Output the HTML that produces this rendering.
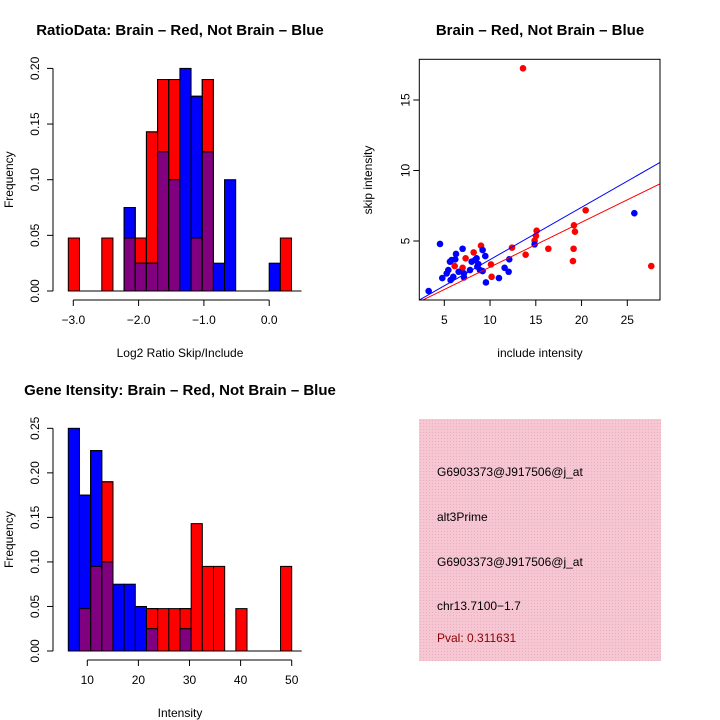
<!DOCTYPE html>
<html><head><meta charset="utf-8"><style>
body{margin:0;background:#fff}
svg{display:block;font-family:"Liberation Sans",sans-serif}
</style></head><body>
<svg id="c" width="720" height="720" viewBox="0 0 720 720">
<rect width="720" height="720" fill="#fff"/>
<defs><pattern id="hatch" width="3" height="3" patternUnits="userSpaceOnUse"><rect width="3" height="3" fill="#f6c6d2"/><rect width="1" height="1" fill="#eab0c0"/></pattern></defs>
<g id="h1"></g>
<g id="sc"></g>
<g id="h2"></g>
<g>
<rect x="419" y="419" width="242" height="242" fill="url(#hatch)"/>
<g font-size="12">
<text x="437" y="476">G6903373@J917506@j_at</text>
<text x="437" y="521">alt3Prime</text>
<text x="437" y="566">G6903373@J917506@j_at</text>
<text x="437" y="610">chr13.7100−1.7</text>
<text x="437" y="642" fill="#8b0000">Pval: 0.311631</text>
</g></g>
</svg>
<script>
// ---- histogram 1 data ----
const h1Start=-3.0765, h1Width=0.1709;
const h1Red=[0.0476,0,0,0.0476,0,0.0476,0.0476,0.143,0.19,0.19,0,0.0476,0.19,0,0,0,0,0,0,0.0476];
const h1Blue=[0,0,0,0,0,0.075,0.025,0.025,0.125,0.1,0.2,0.175,0.125,0.025,0.1,0,0,0,0.025,0];
const h1XTicks=[-3.0,-2.0,-1.0,0.0];
const h1XTickLabels=["\u22123.0","\u22122.0","\u22121.0","0.0"];
const h1YTicks=[0,0.05,0.1,0.15,0.2];
const h1YTickLabels=["0.00","0.05","0.10","0.15","0.20"];
// ---- histogram 2 data ----
const h2Start=6.28, h2Width=2.186;
const h2Red=[0,0.0476,0.095,0.19,0,0,0,0.0476,0.0476,0.0476,0.0476,0.143,0.095,0.095,0,0.0476,0,0,0,0.095];
const h2Blue=[0.25,0.175,0.225,0.1,0.075,0.075,0.05,0.025,0,0,0.025,0,0,0,0,0,0,0,0,0];
const h2XTicks=[10,20,30,40,50];
const h2YTicks=[0,0.05,0.1,0.15,0.2,0.25];
const h2YTickLabels=["0.00","0.05","0.10","0.15","0.20","0.25"];
// ---- scatter data ----
const redX=[13.60,20.45,19.17,19.28,19.13,19.06,16.37,15.09,15.02,14.87,13.89,12.40,10.17,10.10,9.01,8.21,7.33,7.00,6.13,27.62];
const redY=[17.25,7.18,6.11,5.66,4.45,3.58,4.45,5.73,5.36,5.02,4.03,4.53,2.46,3.34,4.67,4.19,3.77,3.10,3.22,3.22];
const blueX=[25.77,4.53,7.00,6.28,5.80,5.62,6.20,5.44,5.26,4.78,5.69,5.98,6.57,7.15,7.15,7.81,7.99,8.53,8.72,8.90,9.19,9.48,9.19,9.55,10.97,11.59,12.03,12.10,14.87,3.29,8.35,8.61];
const blueY=[6.97,4.79,4.45,4.08,3.65,3.53,3.70,2.94,2.70,2.37,2.23,2.46,2.82,2.42,2.70,2.94,3.53,3.77,3.36,2.94,4.36,3.93,2.87,2.06,2.37,3.10,2.82,3.70,4.76,1.45,3.65,3.18];
const blueFit=[-0.03,0.371];
const redFit=[-0.03,0.318];
const scXTicks=[5,10,15,20,25];
const scYTicks=[5,10,15];

const NS="http://www.w3.org/2000/svg";
function mk(parent,tag,attrs,text){const e=document.createElementNS(NS,tag);for(const k in attrs)e.setAttribute(k,attrs[k]);if(text!==undefined)e.textContent=text;parent.appendChild(e);return e;}

function hist(g,cfg){
  const {start,width,red,blue,sx,sy,xTicks,xLabels,yTicks,yLabels,title,xlab,titleY,xlabY}=cfg;
  for(let i=0;i<red.length;i++){
    const x0=sx(start+i*width),x1=sx(start+(i+1)*width);
    const r=red[i],b=blue[i];
    if(r>0){const e=mk(g,'rect',{x:x0,y:sy(r),width:x1-x0,height:sy(0)-sy(r),fill:'#ff0000',stroke:'#000','stroke-width':1});
      }
    if(b>0){const e=mk(g,'rect',{x:x0,y:sy(b),width:x1-x0,height:sy(0)-sy(b),fill:'#0000ff',stroke:'#000','stroke-width':1});
      }
    const m=Math.min(r,b);
    if(m>0){const e=mk(g,'rect',{x:x0,y:sy(m),width:x1-x0,height:sy(0)-sy(m),fill:'#800080',stroke:'#000','stroke-width':1});
      }
    if(r>m&&b>0&&r>0){mk(g,'rect',{x:x0,y:sy(r),width:x1-x0,height:sy(0)-sy(r),fill:'none',stroke:'#000','stroke-width':1});}
    if(b>m&&r>0&&b>0){mk(g,'rect',{x:x0,y:sy(b),width:x1-x0,height:sy(0)-sy(b),fill:'none',stroke:'#000','stroke-width':1});}
  }
  const x0=sx(start),x1=sx(start+red.length*width);
  mk(g,'line',{x1:x0,x2:x1+10,y1:sy(0),y2:sy(0),stroke:'#000'});
  const ay=sy(0)+9;
  const xa=mk(g,'g',{});
  mk(xa,'line',{x1:sx(xTicks[0]),x2:sx(xTicks[xTicks.length-1]),y1:ay,y2:ay,stroke:'#000'});
  xTicks.forEach((t,i)=>{mk(xa,'line',{x1:sx(t),x2:sx(t),y1:ay,y2:ay+6,stroke:'#000'});
    const e=mk(xa,'text',{x:sx(t),y:ay+24,'text-anchor':'middle','font-size':12},xLabels[i]);
    });
  const ya=mk(g,'g',{});
  const ax=53;
  mk(ya,'line',{x1:ax,x2:ax,y1:sy(yTicks[0]),y2:sy(yTicks[yTicks.length-1]),stroke:'#000'});
  yTicks.forEach((t,i)=>{mk(ya,'line',{x1:ax-6,x2:ax,y1:sy(t),y2:sy(t),stroke:'#000'});
    const e=mk(ya,'text',{x:0,y:0,transform:`translate(${ax-14},${sy(t)}) rotate(-90)`,'text-anchor':'middle','font-size':12},yLabels[i]);
    });
  const yl=mk(g,'text',{transform:`translate(13,${(sy(0)+sy(yTicks[yTicks.length-1]))/2}) rotate(-90)`,'text-anchor':'middle','font-size':12},'Frequency');
  
  const xl=mk(g,'text',{x:180,y:xlabY,'text-anchor':'middle','font-size':12},xlab);
  
  const tt=mk(g,'text',{x:180,y:titleY,'text-anchor':'middle','font-size':15,'font-weight':'bold'},title);
  
}

hist(document.getElementById('h1'),{start:h1Start,width:h1Width,red:h1Red,blue:h1Blue,
  sx:v=>73.3+(v+3)*65.3, sy:v=>291-v*1113,
  xTicks:h1XTicks,xLabels:h1XTickLabels,yTicks:h1YTicks,yLabels:h1YTickLabels,
  title:'RatioData: Brain \u2013 Red, Not Brain \u2013 Blue',xlab:'Log2 Ratio Skip/Include',titleY:35,xlabY:357});
hist(document.getElementById('h2'),{start:h2Start,width:h2Width,red:h2Red,blue:h2Blue,
  sx:v=>87.3+(v-10)*5.11, sy:v=>651-v*890.7,
  xTicks:h2XTicks,xLabels:h2XTicks.map(String),yTicks:h2YTicks,yLabels:h2YTickLabels,
  title:'Gene Itensity: Brain \u2013 Red, Not Brain \u2013 Blue',xlab:'Intensity',titleY:395,xlabY:717});

(function(){
  const g=document.getElementById('sc');
  const sx=v=>444.3+(v-5)*9.15, sy=v=>241-(v-5)*14.1;
  const L=419.3,R=660,T=59.3,B=300;
  const xmin=5+(L-444.3)/9.15, xmax=5+(R-444.3)/9.15;
  const clip=mk(document.querySelector('defs'),'clipPath',{id:'scclip'});
  mk(clip,'rect',{x:L,y:T,width:R-L,height:B-T});
  const pts=mk(g,'g',{'clip-path':'url(#scclip)'});
  redX.forEach((x,i)=>{const e=mk(pts,'circle',{cx:sx(x),cy:sy(redY[i]),r:3.3,fill:'#ff0000'});
    });
  blueX.forEach((x,i)=>{const e=mk(pts,'circle',{cx:sx(x),cy:sy(blueY[i]),r:3.3,fill:'#0000ff'});
    });
  const bl=mk(pts,'line',{x1:sx(xmin),y1:sy(blueFit[0]+blueFit[1]*xmin),x2:sx(xmax),y2:sy(blueFit[0]+blueFit[1]*xmax),stroke:'#0000ff'});
  
  const rl=mk(pts,'line',{x1:sx(xmin),y1:sy(redFit[0]+redFit[1]*xmin),x2:sx(xmax),y2:sy(redFit[0]+redFit[1]*xmax),stroke:'#ff0000'});
  
  const box=mk(g,'rect',{x:L,y:T,width:R-L,height:B-T,fill:'none',stroke:'#000'});
  
  scXTicks.forEach(t=>{mk(g,'line',{x1:sx(t),x2:sx(t),y1:B,y2:B+6,stroke:'#000'});
    const e=mk(g,'text',{x:sx(t),y:B+24,'text-anchor':'middle','font-size':12},String(t));
    });
  scYTicks.forEach(t=>{mk(g,'line',{x1:L-6,x2:L,y1:sy(t),y2:sy(t),stroke:'#000'});
    const e=mk(g,'text',{transform:`translate(${L-10},${sy(t)}) rotate(-90)`,'text-anchor':'middle','font-size':12},String(t));
    });
  const xl=mk(g,'text',{x:540,y:357,'text-anchor':'middle','font-size':12},'include intensity');
  
  const yl=mk(g,'text',{transform:'translate(372,180) rotate(-90)','text-anchor':'middle','font-size':12},'skip intensity');
  
  const tt=mk(g,'text',{x:540,y:35,'text-anchor':'middle','font-size':15,'font-weight':'bold'},'Brain \u2013 Red, Not Brain \u2013 Blue');
  
})();
</script>
</body></html>
